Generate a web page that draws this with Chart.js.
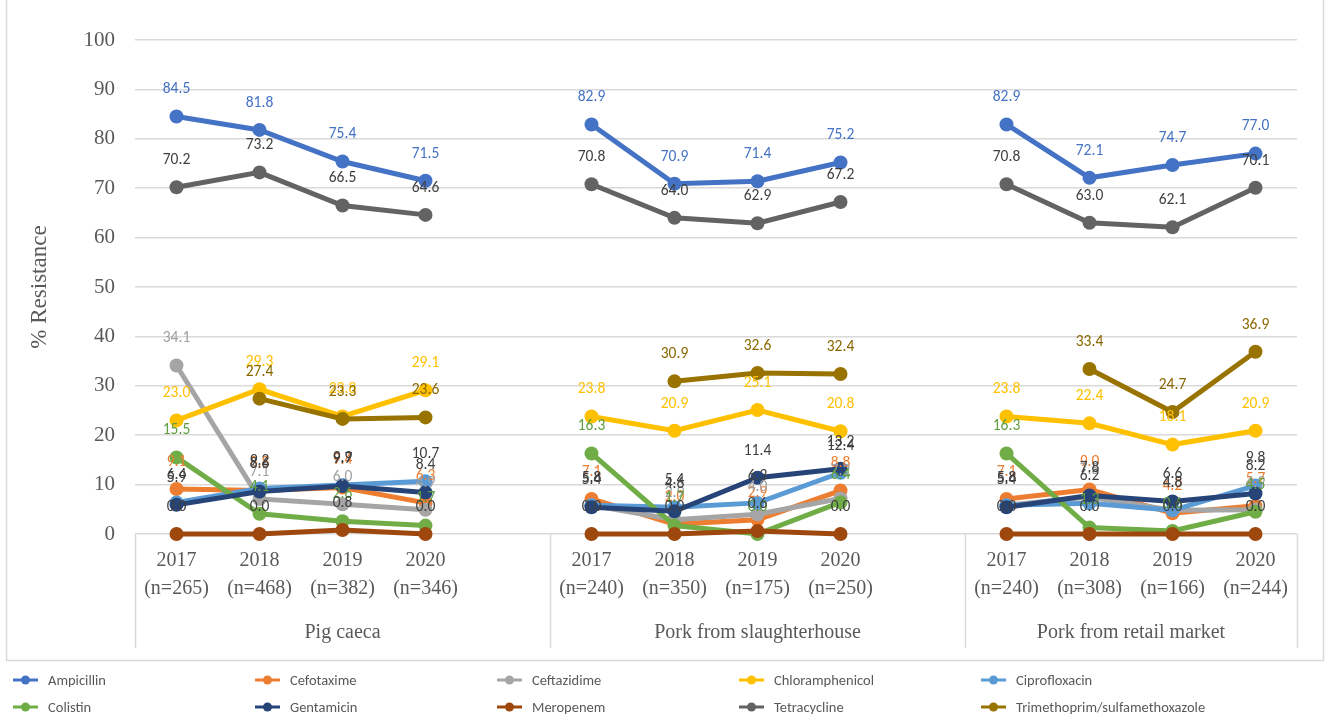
<!DOCTYPE html>
<html>
<head>
<meta charset="utf-8">
<script src="https://cdn.jsdelivr.net/npm/chart.js@4.4.1/dist/chart.umd.min.js"></script>
<style>
  html, body { margin: 0; padding: 0; background: #fff; }
  #wrap { position: relative; width: 1330px; height: 716px; }
</style>
</head>
<body>
<div id="wrap"><canvas id="resistance-chart"></canvas></div>
<script>
// Sources and sampled years, one null slot between sources to break the lines
const groups = ['Pig caeca', 'Pork from slaughterhouse', 'Pork from retail market'];
const years = ['2017', '2018', '2019', '2020'];
const sampleSizes = [
  [265, 468, 382, 346],
  [240, 350, 175, 250],
  [240, 308, 166, 244],
];

// % resistance per drug: pig caeca | gap | slaughterhouse | gap | retail
const ampicillin      = [84.5, 81.8, 75.4, 71.5, null, 82.9, 70.9, 71.4, 75.2, null, 82.9, 72.1, 74.7, 77.0];
const cefotaxime      = [9.1, 8.8, 9.4, 6.3, null, 7.1, 2.0, 2.9, 8.8, null, 7.1, 9.0, 4.2, 5.7];
const ceftazidime     = [34.1, 7.1, 6.0, 4.9, null, 5.8, 2.9, 4.0, 7.2, null, 5.8, 7.5, 4.8, 4.9];
const chloramphenicol = [23.0, 29.3, 23.8, 29.1, null, 23.8, 20.9, 25.1, 20.8, null, 23.8, 22.4, 18.1, 20.9];
const ciprofloxacin   = [6.4, 9.2, 9.9, 10.7, null, 5.8, 5.4, 6.3, 12.4, null, 5.8, 6.2, 4.8, 9.8];
const colistin        = [15.5, 4.1, 2.6, 1.7, null, 16.3, 1.7, 0.0, 6.4, null, 16.3, 1.3, 0.6, 4.5];
const gentamicin      = [5.9, 8.6, 9.7, 8.4, null, 5.4, 4.6, 11.4, 13.2, null, 5.4, 7.8, 6.6, 8.2];
const meropenem       = [0.0, 0.0, 0.8, 0.0, null, 0.0, 0.0, 0.6, 0.0, null, 0.0, 0.0, 0.0, 0.0];
const tetracycline    = [70.2, 73.2, 66.5, 64.6, null, 70.8, 64.0, 62.9, 67.2, null, 70.8, 63.0, 62.1, 70.1];
const trimSulfa       = [null, 27.4, 23.3, 23.6, null, null, 30.9, 32.6, 32.4, null, null, 33.4, 24.7, 36.9];

const yTicks = { min: 0, max: 100, step: 10 };

// build the category labels: 4 years per source plus one blank slot between sources
const labels = [];
const groupStart = [];
groups.forEach((g, gi) => {
  groupStart.push(labels.length);
  years.forEach((y, i) => labels.push([y, '(n=' + sampleSizes[gi][i] + ')']));
  if (gi < groups.length - 1) labels.push('');
});

const series = [
  { label: 'Ampicillin', data: ampicillin, color: '#4472C4', text: '#4472C4' },
  { label: 'Cefotaxime', data: cefotaxime, color: '#ED7D31', text: '#ED7D31' },
  { label: 'Ceftazidime', data: ceftazidime, color: '#A5A5A5', text: '#A0A0A0' },
  { label: 'Chloramphenicol', data: chloramphenicol, color: '#FFC000', text: '#FFC000' },
  { label: 'Ciprofloxacin', data: ciprofloxacin, color: '#5B9BD5', text: '#404040' },
  { label: 'Colistin', data: colistin, color: '#70AD47', text: '#5E9E3F' },
  { label: 'Gentamicin', data: gentamicin, color: '#264478', text: '#404040' },
  { label: 'Meropenem', data: meropenem, color: '#9E480E', text: '#404040' },
  { label: 'Tetracycline', data: tetracycline, color: '#636363', text: '#404040' },
  { label: 'Trimethoprim/sulfamethoxazole', data: trimSulfa, color: '#997300', text: '#8A6700' },
];

const SERIF = "'Liberation Serif', 'Times New Roman', serif";
const AXIS_GREY = '#595959';

// value labels above every point
const valueLabels = {
  id: 'valueLabels',
  afterDatasetsDraw(chart) {
    const ctx = chart.ctx;
    ctx.save();
    ctx.font = "15.5px Carlito, Lato, sans-serif";
    ctx.textAlign = 'center';
    ctx.textBaseline = 'middle';
    chart.data.datasets.forEach((ds, i) => {
      const meta = chart.getDatasetMeta(i);
      ctx.fillStyle = ds.labelColor;
      meta.data.forEach((pt, j) => {
        const v = ds.data[j];
        if (v === null || v === undefined) return;
        ctx.fillText(v.toFixed(1), pt.x, pt.y - 27);
      });
    });
    ctx.restore();
  }
};

// source names under the years, separator lines, outer frame and the legend grid
const groupAxis = {
  id: 'groupAxis',
  afterDraw(chart) {
    const ctx = chart.ctx;
    const xs = chart.scales.x;
    const area = chart.chartArea;
    const half = (xs.getPixelForTick(1) - xs.getPixelForTick(0)) / 2;
    const last = labels.length - 1;

    ctx.save();
    ctx.strokeStyle = '#D9D9D9';
    ctx.lineWidth = 1.5;
    const edges = groupStart.map(s => xs.getPixelForTick(s) - half);
    edges.push(xs.getPixelForTick(last) + half);
    edges.forEach(x => {
      ctx.beginPath();
      ctx.moveTo(Math.round(x) + 0.5, area.bottom);
      ctx.lineTo(Math.round(x) + 0.5, 648);
      ctx.stroke();
    });

    ctx.fillStyle = AXIS_GREY;
    ctx.font = '20px ' + SERIF;
    ctx.textAlign = 'center';
    ctx.textBaseline = 'middle';
    groups.forEach((g, gi) => {
      ctx.fillText(g, (edges[gi] + edges[gi + 1]) / 2, 633);
    });

    // chart frame
    ctx.beginPath();
    ctx.moveTo(6.5, -2);
    ctx.lineTo(6.5, 660.5);
    ctx.lineTo(1323.5, 660.5);
    ctx.lineTo(1323.5, -2);
    ctx.stroke();

    // legend, five columns by two rows
    ctx.font = "14.5px Carlito, 'Liberation Sans Narrow', 'Liberation Sans', sans-serif";
    ctx.textAlign = 'left';
    chart.data.datasets.forEach((ds, i) => {
      const x0 = 13 + (i % 5) * 242;
      const y0 = 680 + Math.floor(i / 5) * 27;
      ctx.strokeStyle = ds.borderColor;
      ctx.fillStyle = ds.borderColor;
      ctx.lineWidth = 3;
      ctx.beginPath();
      ctx.moveTo(x0, y0);
      ctx.lineTo(x0 + 25, y0);
      ctx.stroke();
      ctx.beginPath();
      ctx.arc(x0 + 12.5, y0, 4.5, 0, Math.PI * 2);
      ctx.fill();
      ctx.fillStyle = AXIS_GREY;
      ctx.fillText(ds.label, x0 + 35, y0 + 1);
    });
    ctx.restore();
  }
};

const datasets = series.map((s, i) => ({
  label: s.label,
  data: s.data,
  borderColor: s.color,
  backgroundColor: s.color,
  pointBackgroundColor: s.color,
  pointBorderColor: s.color,
  labelColor: s.text,
  borderWidth: 5,
  pointRadius: 7,
  pointBorderWidth: 0,
  tension: 0,
  spanGaps: false,
  clip: false,
  order: series.length - i, // later drugs drawn on top
}));

new Chart(document.getElementById('resistance-chart'), {
  type: 'line',
  data: { labels, datasets },
  options: {
    responsive: true,
    maintainAspectRatio: false,
    animation: false,
    layout: { padding: { top: 40, right: 33, left: 0, bottom: 0 } },
    plugins: {
      legend: { display: false },
      tooltip: { enabled: false },
    },
    scales: {
      x: {
        offset: true,
        grid: { display: false, drawTicks: false },
        border: { display: false },
        ticks: {
          autoSkip: false,
          maxRotation: 0,
          padding: 13,
          color: AXIS_GREY,
          font: { family: SERIF, size: 20, lineHeight: 1.4 },
        },
        afterFit(scale) { scale.height = 182; },
      },
      y: {
        min: yTicks.min,
        max: yTicks.max,
        grid: { color: '#D9D9D9', lineWidth: 1.5, drawTicks: false },
        border: { display: false },
        ticks: {
          stepSize: yTicks.step,
          padding: 20,
          color: AXIS_GREY,
          font: { family: SERIF, size: 21 },
        },
        title: {
          display: true,
          text: '% Resistance',
          color: AXIS_GREY,
          font: { family: SERIF, size: 23 },
          padding: { top: 26, bottom: 0 },
        },
        afterFit(scale) { scale.width = 135; },
      },
    },
  },
  plugins: [valueLabels, groupAxis],
});
</script>
</body>
</html>
